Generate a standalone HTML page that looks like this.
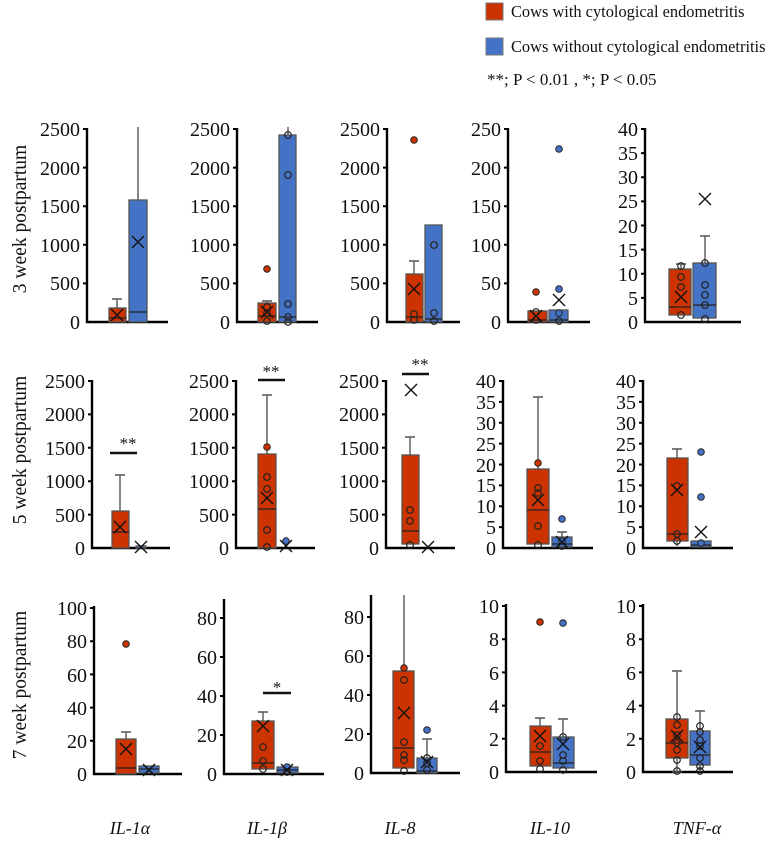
<!DOCTYPE html>
<html><head><meta charset="utf-8"><style>
body{margin:0;background:#fff}
svg{display:block}
text{font-family:"Liberation Serif",serif;fill:#111}
.t{font-size:20px;text-anchor:end;font-family:"Liberation Serif",serif}
.ax{stroke:#000;stroke-width:2.4;fill:none}
.tk{stroke:#000;stroke-width:2}
.r{fill:#cc3300;stroke:#555;stroke-width:1.3}
.b{fill:#4472c4;stroke:#555;stroke-width:1.3}
.w{stroke:#555;stroke-width:1.4;fill:none}
.m{stroke:#222;stroke-width:1.2}
.o{fill:none;stroke:#222;stroke-width:1.2}
.fr{fill:#cc3300;stroke:#222;stroke-width:1}
.fb{fill:#4472c4;stroke:#222;stroke-width:1}
.x{stroke:#111;stroke-width:1.4;fill:none}
.sg{stroke:#111;stroke-width:2.4}
</style></head><body>
<svg width="767" height="841" viewBox="0 0 767 841" xmlns="http://www.w3.org/2000/svg">
<defs><path id="X" class="x" d="M-6,-6L6,6M-6,6L6,-6"/></defs>
<!-- legend -->
<rect x="486" y="3" width="17" height="17" fill="#cc3300" stroke="#777"/>
<text x="511" y="17" font-size="16.4">Cows with cytological endometritis</text>
<rect x="486" y="38" width="17" height="17" fill="#4472c4" stroke="#777"/>
<text x="511" y="52" font-size="16.4">Cows without cytological endometritis</text>
<text x="487" y="85" font-size="17">**; P &lt; 0.01 ,  *; P &lt; 0.05</text>
<!-- row labels -->
<text transform="translate(26,219) rotate(-90)" font-size="19.5" text-anchor="middle">3 week postpartum</text>
<text transform="translate(26,450) rotate(-90)" font-size="19.5" text-anchor="middle">5 week postpartum</text>
<text transform="translate(26,685) rotate(-90)" font-size="19.5" text-anchor="middle">7 week postpartum</text>
<!-- x labels -->
<g font-size="18" font-style="italic" text-anchor="middle">
<text x="130" y="834">IL-1α</text><text x="267" y="834">IL-1β</text><text x="400" y="834">IL-8</text><text x="550" y="834">IL-10</text><text x="697" y="834">TNF-α</text></g>

<!-- ROW 1 -->
<path class="ax" d="M87,128V322H168"/>
<g class="tk"><path d="M83,129H87M83,167.6H87M83,206.2H87M83,244.8H87M83,283.4H87"/></g>
<g class="t"><text x="80" y="136">2500</text><text x="80" y="175">2000</text><text x="80" y="213">1500</text><text x="80" y="252">1000</text><text x="80" y="290">500</text><text x="80" y="329">0</text></g>
<path class="w" d="M117,308V299M112,299H122"/>
<rect class="r" x="109" y="308" width="17" height="14"/><path class="m" d="M109,318H126"/>
<use href="#X" x="117" y="315"/>
<path class="w" d="M138,200V127"/>
<rect class="b" x="129" y="200" width="18" height="122"/><path class="m" d="M129,312H147"/>
<use href="#X" x="138" y="242"/>
<path class="ax" d="M237,128V322H318"/>
<g class="tk"><path d="M233,129H237M233,167.6H237M233,206.2H237M233,244.8H237M233,283.4H237"/></g>
<g class="t"><text x="230" y="136">2500</text><text x="230" y="175">2000</text><text x="230" y="213">1500</text><text x="230" y="252">1000</text><text x="230" y="290">500</text><text x="230" y="329">0</text></g>
<path class="w" d="M267,303V301M262,301H272"/>
<rect class="r" x="258" y="303" width="18" height="19"/><path class="m" d="M258,316H276"/>
<circle class="fr" cx="267" cy="269" r="3.3"/><circle class="o" cx="267" cy="307" r="3.3"/><circle class="o" cx="267" cy="313" r="3.3"/><circle class="o" cx="267" cy="321" r="3.3"/>
<use href="#X" x="267" y="312"/>
<path class="w" d="M288,135V127"/>
<rect class="b" x="279" y="135" width="17" height="187"/><path class="m" d="M279,317H296"/>
<circle class="o" cx="288" cy="135" r="3.3"/><circle class="o" cx="288" cy="175" r="3.3"/><circle class="o" cx="288" cy="304" r="3.3"/><circle class="o" cx="288" cy="317" r="3.3"/><circle class="o" cx="288" cy="322" r="3.3"/>
<path class="ax" d="M387,128V322H460"/>
<g class="tk"><path d="M383,129H387M383,167.6H387M383,206.2H387M383,244.8H387M383,283.4H387"/></g>
<g class="t"><text x="380" y="136">2500</text><text x="380" y="175">2000</text><text x="380" y="213">1500</text><text x="380" y="252">1000</text><text x="380" y="290">500</text><text x="380" y="329">0</text></g>
<path class="w" d="M414,274V261M409,261H419"/>
<rect class="r" x="406" y="274" width="17" height="48"/><path class="m" d="M406,317H423"/>
<circle class="fr" cx="414" cy="140" r="3.3"/><circle class="o" cx="414" cy="314" r="3.3"/><circle class="o" cx="414" cy="320" r="3.3"/>
<use href="#X" x="414" y="289"/>
<rect class="b" x="425" y="225" width="17" height="97"/><path class="m" d="M425,319H442"/>
<circle class="o" cx="434" cy="245" r="3.3"/><circle class="o" cx="434" cy="313" r="3.3"/><circle class="o" cx="434" cy="321" r="3.3"/>
<path class="ax" d="M508,128V322H590"/>
<g class="tk"><path d="M504,129H508M504,167.6H508M504,206.2H508M504,244.8H508M504,283.4H508"/></g>
<g class="t"><text x="501" y="136">250</text><text x="501" y="175">200</text><text x="501" y="213">150</text><text x="501" y="252">100</text><text x="501" y="290">50</text><text x="501" y="329">0</text></g>
<rect class="r" x="528" y="311" width="19" height="11"/><path class="m" d="M528,320H547"/>
<circle class="fr" cx="536" cy="292" r="3.3"/><circle class="o" cx="536" cy="312" r="3.3"/><circle class="o" cx="536" cy="320" r="3.3"/>
<use href="#X" x="536" y="316"/>
<rect class="b" x="549" y="310" width="19" height="12"/><path class="m" d="M549,320H568"/>
<circle class="fb" cx="559" cy="149" r="3.3"/><circle class="fb" cx="559" cy="289" r="3.3"/><circle class="fb" cx="559" cy="313" r="3.3"/><circle class="o" cx="559" cy="321" r="3.3"/>
<use href="#X" x="559" y="300"/>
<path class="ax" d="M645,128V322H741"/>
<g class="tk"><path d="M641,129H645M641,153.1H645M641,177.3H645M641,201.4H645M641,225.5H645M641,249.6H645M641,273.8H645M641,297.9H645"/></g>
<g class="t"><text x="638" y="136">40</text><text x="638" y="160">35</text><text x="638" y="184">30</text><text x="638" y="208">25</text><text x="638" y="233">20</text><text x="638" y="257">15</text><text x="638" y="281">10</text><text x="638" y="305">5</text><text x="638" y="329">0</text></g>
<path class="w" d="M681,269V264M676,264H686"/>
<rect class="r" x="669" y="269" width="22" height="46"/><path class="m" d="M669,307H691"/>
<circle class="o" cx="681" cy="266" r="3.3"/><circle class="o" cx="681" cy="277" r="3.3"/><circle class="o" cx="681" cy="287" r="3.3"/><circle class="o" cx="681" cy="315" r="3.3"/>
<use href="#X" x="681" y="297"/>
<path class="w" d="M705,263V236M700,236H710"/>
<rect class="b" x="693" y="263" width="23" height="55"/><path class="m" d="M693,305H716"/>
<circle class="o" cx="705" cy="263" r="3.3"/><circle class="o" cx="705" cy="285" r="3.3"/><circle class="o" cx="705" cy="295" r="3.3"/><circle class="o" cx="705" cy="305" r="3.3"/><circle class="o" cx="705" cy="319" r="3.3"/>
<use href="#X" x="705" y="199"/>

<!-- ROW 2 -->
<path class="ax" d="M92,380V548H170"/>
<g class="tk"><path d="M88,381H92M88,414.4H92M88,447.8H92M88,481.2H92M88,514.6H92"/></g>
<g class="t"><text x="85" y="388">2500</text><text x="85" y="421">2000</text><text x="85" y="455">1500</text><text x="85" y="488">1000</text><text x="85" y="522">500</text><text x="85" y="555">0</text></g>
<path class="w" d="M120,511V475M115,475H125"/>
<rect class="r" x="112" y="511" width="17" height="37"/><path class="m" d="M112,532H129"/>
<use href="#X" x="120" y="527"/>
<rect class="b" x="136" y="546" width="10" height="2"/>
<use href="#X" x="141" y="547"/>
<path class="sg" d="M110,453H137"/><text x="128" y="449" font-size="17" text-anchor="middle">**</text>
<path class="ax" d="M236,380V548H315"/>
<g class="tk"><path d="M232,381H236M232,414.4H236M232,447.8H236M232,481.2H236M232,514.6H236"/></g>
<g class="t"><text x="229" y="388">2500</text><text x="229" y="421">2000</text><text x="229" y="455">1500</text><text x="229" y="488">1000</text><text x="229" y="522">500</text><text x="229" y="555">0</text></g>
<path class="w" d="M267,454V395M262,395H272"/>
<rect class="r" x="258" y="454" width="18" height="94"/><path class="m" d="M258,509H276"/>
<circle class="fr" cx="267" cy="447" r="3.3"/><circle class="o" cx="267" cy="477" r="3.3"/><circle class="o" cx="267" cy="489" r="3.3"/><circle class="o" cx="267" cy="530" r="3.3"/><circle class="o" cx="267" cy="547" r="3.3"/>
<use href="#X" x="267" y="498"/>
<circle class="fb" cx="286" cy="541" r="3.3"/><use href="#X" x="286" y="546"/>
<path class="sg" d="M258,380H285"/><text x="271" y="377" font-size="17" text-anchor="middle">**</text>
<path class="ax" d="M386,380V548H455"/>
<g class="tk"><path d="M382,381H386M382,414.4H386M382,447.8H386M382,481.2H386M382,514.6H386"/></g>
<g class="t"><text x="379" y="388">2500</text><text x="379" y="421">2000</text><text x="379" y="455">1500</text><text x="379" y="488">1000</text><text x="379" y="522">500</text><text x="379" y="555">0</text></g>
<path class="w" d="M410,455V437M405,437H415"/>
<rect class="r" x="402" y="455" width="17" height="89"/><path class="m" d="M402,531H419"/>
<circle class="o" cx="410" cy="510" r="3.3"/><circle class="o" cx="410" cy="521" r="3.3"/><circle class="o" cx="410" cy="545" r="3.3"/>
<use href="#X" x="411" y="390"/>
<use href="#X" x="428" y="547"/>
<path class="sg" d="M402,374H429"/><text x="420" y="370" font-size="17" text-anchor="middle">**</text>
<path class="ax" d="M503,380V548H593"/>
<g class="tk"><path d="M499,381H503M499,401.9H503M499,422.8H503M499,443.6H503M499,464.5H503M499,485.4H503M499,506.3H503M499,527.1H503"/></g>
<g class="t"><text x="496" y="388">40</text><text x="496" y="409">35</text><text x="496" y="430">30</text><text x="496" y="451">25</text><text x="496" y="472">20</text><text x="496" y="492">15</text><text x="496" y="513">10</text><text x="496" y="534">5</text><text x="496" y="555">0</text></g>
<path class="w" d="M538,469V397M533,397H543"/>
<rect class="r" x="527" y="469" width="22" height="75"/><path class="m" d="M527,510H549"/>
<circle class="fr" cx="538" cy="463" r="3.3"/><circle class="o" cx="538" cy="488" r="3.3"/><circle class="o" cx="538" cy="493" r="3.3"/><circle class="o" cx="538" cy="526" r="3.3"/><circle class="o" cx="538" cy="545" r="3.3"/>
<use href="#X" x="538" y="500"/>
<path class="w" d="M562,537V532M557,532H567"/>
<rect class="b" x="552" y="537" width="20" height="10"/><path class="m" d="M552,544H572"/>
<circle class="fb" cx="562" cy="519" r="3.3"/><circle class="fb" cx="562" cy="541" r="3.3"/><circle class="o" cx="562" cy="546" r="3.3"/>
<use href="#X" x="562" y="542"/>
<path class="ax" d="M643,380V548H733"/>
<g class="tk"><path d="M639,381H643M639,401.9H643M639,422.8H643M639,443.6H643M639,464.5H643M639,485.4H643M639,506.3H643M639,527.1H643"/></g>
<g class="t"><text x="636" y="388">40</text><text x="636" y="409">35</text><text x="636" y="430">30</text><text x="636" y="451">25</text><text x="636" y="472">20</text><text x="636" y="492">15</text><text x="636" y="513">10</text><text x="636" y="534">5</text><text x="636" y="555">0</text></g>
<path class="w" d="M677,458V449M672,449H682M677,541V546"/>
<rect class="r" x="667" y="458" width="21" height="83"/><path class="m" d="M667,534H688"/>
<circle class="o" cx="677" cy="486" r="3.3"/><circle class="o" cx="677" cy="534" r="3.3"/><circle class="o" cx="677" cy="541" r="3.3"/>
<use href="#X" x="677" y="490"/>
<rect class="b" x="691" y="541" width="20" height="6"/><path class="m" d="M691,545H711"/>
<circle class="fb" cx="701" cy="452" r="3.3"/><circle class="fb" cx="701" cy="497" r="3.3"/><circle class="fb" cx="701" cy="543" r="3.3"/>
<use href="#X" x="701" y="532"/>

<!-- ROW 3 -->
<path class="ax" d="M94,606V774H182"/>
<g class="tk"><path d="M90,608H94M90,641.2H94M90,674.4H94M90,707.6H94M90,740.8H94"/></g>
<g class="t"><text x="87" y="615">100</text><text x="87" y="648">80</text><text x="87" y="682">60</text><text x="87" y="715">40</text><text x="87" y="748">20</text><text x="87" y="781">0</text></g>
<path class="w" d="M126,739V732M121,732H131"/>
<rect class="r" x="116" y="739" width="20" height="35"/><path class="m" d="M116,768H136"/>
<circle class="fr" cx="126" cy="644" r="3.3"/>
<use href="#X" x="126" y="749"/>
<rect class="b" x="139" y="766" width="20" height="7"/><path class="m" d="M139,769H159"/>
<use href="#X" x="149" y="770"/>
<path class="ax" d="M224,599V774H324"/>
<g class="tk"><path d="M220,618H224M220,657H224M220,696H224M220,735H224"/></g>
<g class="t"><text x="217" y="625">80</text><text x="217" y="664">60</text><text x="217" y="703">40</text><text x="217" y="742">20</text><text x="217" y="781">0</text></g>
<path class="w" d="M263,721V712M258,712H268"/>
<rect class="r" x="252" y="721" width="22" height="48"/><path class="m" d="M252,763H274"/>
<circle class="o" cx="263" cy="747" r="3.3"/><circle class="o" cx="263" cy="761" r="3.3"/><circle class="o" cx="263" cy="769" r="3.3"/>
<use href="#X" x="263" y="726"/>
<rect class="b" x="277" y="767" width="21" height="6"/><path class="m" d="M277,770H298"/>
<circle class="fb" cx="287" cy="767" r="3.3"/><circle class="o" cx="287" cy="772" r="3.3"/>
<use href="#X" x="287" y="770"/>
<path class="sg" d="M263,693H291"/><text x="277" y="693" font-size="17" text-anchor="middle">*</text>
<path class="ax" d="M371,595V773H460"/>
<g class="tk"><path d="M367,617H371M367,656H371M367,695H371M367,734H371"/></g>
<g class="t"><text x="364" y="624">80</text><text x="364" y="663">60</text><text x="364" y="702">40</text><text x="364" y="741">20</text><text x="364" y="780">0</text></g>
<path class="w" d="M404,671V595"/>
<rect class="r" x="393" y="671" width="21" height="97"/><path class="m" d="M393,748H414"/>
<circle class="fr" cx="404" cy="668" r="3.3"/><circle class="o" cx="404" cy="680" r="3.3"/><circle class="o" cx="404" cy="742" r="3.3"/><circle class="o" cx="404" cy="755" r="3.3"/><circle class="o" cx="404" cy="760" r="3.3"/><circle class="o" cx="404" cy="771" r="3.3"/>
<use href="#X" x="404" y="713"/>
<path class="w" d="M427,758V739M422,739H432"/>
<rect class="b" x="417" y="758" width="20" height="15"/><path class="m" d="M417,771H437"/>
<circle class="fb" cx="427" cy="730" r="3.3"/><circle class="o" cx="427" cy="758" r="3.3"/><circle class="o" cx="427" cy="763" r="3.3"/><circle class="o" cx="427" cy="770" r="3.3"/>
<use href="#X" x="427" y="762"/>
<path class="ax" d="M506,604V772H597"/>
<g class="tk"><path d="M502,606H506M502,639.2H506M502,672.4H506M502,705.6H506M502,738.8H506"/></g>
<g class="t"><text x="499" y="613">10</text><text x="499" y="646">8</text><text x="499" y="680">6</text><text x="499" y="713">4</text><text x="499" y="746">2</text><text x="499" y="779">0</text></g>
<path class="w" d="M540,726V718M535,718H545"/>
<rect class="r" x="530" y="726" width="21" height="40"/><path class="m" d="M530,752H551"/>
<circle class="fr" cx="540" cy="622" r="3.3"/><circle class="o" cx="540" cy="746" r="3.3"/><circle class="o" cx="540" cy="761" r="3.3"/><circle class="o" cx="540" cy="769" r="3.3"/>
<use href="#X" x="540" y="736"/>
<path class="w" d="M563,737V719M558,719H568"/>
<rect class="b" x="553" y="737" width="21" height="31"/><path class="m" d="M553,763H574"/>
<circle class="fb" cx="563" cy="623" r="3.3"/><circle class="o" cx="563" cy="737" r="3.3"/><circle class="o" cx="563" cy="755" r="3.3"/><circle class="o" cx="563" cy="761" r="3.3"/><circle class="o" cx="563" cy="770" r="3.3"/>
<use href="#X" x="563" y="744"/>
<path class="ax" d="M643,604V772H733"/>
<g class="tk"><path d="M639,606H643M639,639.2H643M639,672.4H643M639,705.6H643M639,738.8H643"/></g>
<g class="t"><text x="636" y="613">10</text><text x="636" y="646">8</text><text x="636" y="680">6</text><text x="636" y="713">4</text><text x="636" y="746">2</text><text x="636" y="779">0</text></g>
<path class="w" d="M677,719V671M672,671H682M677,758V772M672,772H682"/>
<rect class="r" x="666" y="719" width="22" height="39"/><path class="m" d="M666,743H688"/>
<circle class="o" cx="677" cy="717" r="3.3"/><circle class="o" cx="677" cy="725" r="3.3"/><circle class="o" cx="677" cy="735" r="3.3"/><circle class="o" cx="677" cy="743" r="3.3"/><circle class="o" cx="677" cy="750" r="3.3"/><circle class="o" cx="677" cy="760" r="3.3"/><circle class="o" cx="677" cy="771" r="3.3"/>
<use href="#X" x="677" y="736"/>
<path class="w" d="M700,731V711M695,711H705M700,765V772"/>
<rect class="b" x="690" y="731" width="20" height="34"/><path class="m" d="M690,755H710"/>
<circle class="o" cx="700" cy="726" r="3.3"/><circle class="o" cx="700" cy="732" r="3.3"/><circle class="o" cx="700" cy="740" r="3.3"/><circle class="o" cx="700" cy="746" r="3.3"/><circle class="o" cx="700" cy="758" r="3.3"/><circle class="o" cx="700" cy="766" r="3.3"/><circle class="o" cx="700" cy="771" r="3.3"/>
<use href="#X" x="700" y="747"/>
</svg>
</body></html>
